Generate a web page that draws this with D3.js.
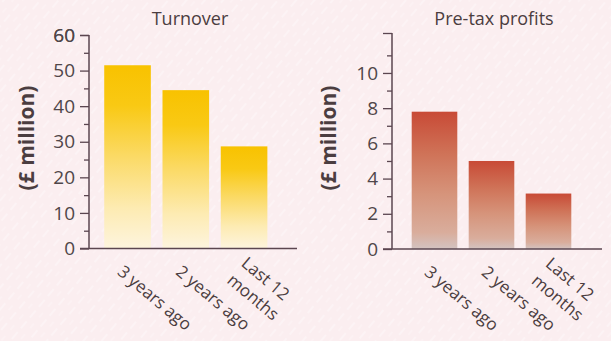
<!DOCTYPE html>
<html>
<head>
<meta charset="utf-8">
<script src="https://cdn.jsdelivr.net/npm/d3@7/dist/d3.min.js"></script>
<style>
  html, body { margin: 0; padding: 0; background: #fbeef0; }
  svg { display: block; }
  text { font-family: "Open Sans", "DejaVu Sans", sans-serif; }
</style>
</head>
<body>
<svg id="chart" width="611" height="341"></svg>
<script>
// Periods shown along the bottom of both panels
const periods = ["3 years ago", "2 years ago", "Last 12 months"];
const periodLines = [["3 years ago"], ["2 years ago"], ["Last 12", "months"]];

// Turnover, £ million
const turnover = [51.5, 44.5, 28.7];
const turnoverMajorTicks = [0, 10, 20, 30, 40, 50, 60];
const turnoverMinorTicks = [5, 15, 25, 35, 45, 55];

// Pre-tax profits, £ million
const profits = [7.8, 5.0, 3.15];
const profitMajorTicks = [0, 2, 4, 6, 8, 10];
const profitMinorTicks = [1, 3, 5, 7, 9, 11];

const panelTitles = ["Turnover", "Pre-tax profits"];
const axisTitle = "(£ million)";

const svg = d3.select("#chart");
const W = 611, H = 341;

// paper background with faint diagonal streaks
const defs = svg.append("defs");
const pat = defs.append("pattern")
  .attr("id", "streaks").attr("patternUnits", "userSpaceOnUse")
  .attr("width", 14).attr("height", 14)
  .attr("patternTransform", "rotate(-50)");
pat.append("line").attr("x1", 0).attr("y1", 3).attr("x2", 9).attr("y2", 3)
  .attr("stroke", "#ffffff").attr("stroke-width", 1.1).attr("opacity", 0.55);
pat.append("line").attr("x1", 6).attr("y1", 10).attr("x2", 12).attr("y2", 10)
  .attr("stroke", "#ffffff").attr("stroke-width", 0.9).attr("opacity", 0.4);
svg.append("rect").attr("width", W).attr("height", H).attr("fill", "#fbeef0");
svg.append("rect").attr("width", W).attr("height", H).attr("fill", "url(#streaks)");

function addGradient(id, stops) {
  const g = defs.append("linearGradient").attr("id", id)
    .attr("x1", 0).attr("y1", 0).attr("x2", 0).attr("y2", 1);
  stops.forEach(([o, c]) => g.append("stop").attr("offset", o).attr("stop-color", c));
}
addGradient("goldFade", [[0, "#f8c200"], [0.22, "#f9c914"], [0.5, "#fbda66"], [0.78, "#fdebb2"], [1, "#fdf4de"]]);
addGradient("rustFade", [[0, "#c84a36"], [0.3, "#cf7257"], [0.6, "#d6947b"], [0.88, "#d9ad9c"], [1, "#d3c3c1"]]);

const textColor = "#4b3d40";
const tickColor = "#504649";
const axisColor = "#5b4650";

const panels = [
  {
    title: panelTitles[0], values: turnover, major: turnoverMajorTicks, minor: turnoverMinorTicks,
    domain: [0, 60], yRange: [248.5, 35], axisX: 89, bandRange: [98.4, 273.2], baseEnd: 297,
    titleX: 190, labelX: 26, fill: "url(#goldFade)"
  },
  {
    title: panelTitles[1], values: profits, major: profitMajorTicks, minor: profitMinorTicks,
    domain: [0, 12.27], yRange: [249, 33], axisX: 392, bandRange: [406, 577], baseEnd: 602,
    titleX: 494, labelX: 328, fill: "url(#rustFade)"
  }
];

panels.forEach(p => {
  const g = svg.append("g");
  const y = d3.scaleLinear().domain(p.domain).range(p.yRange);
  const x = d3.scaleBand().domain(periods).range(p.bandRange).paddingInner(0.2).paddingOuter(0.1);

  // bars
  g.selectAll("rect.bar").data(p.values).join("rect")
    .attr("class", "bar")
    .attr("x", (d, i) => x(periods[i]))
    .attr("width", x.bandwidth())
    .attr("y", d => y(d))
    .attr("height", d => y(0) - y(d))
    .attr("fill", p.fill);

  // minor ticks
  const minorAxis = d3.axisLeft(y).tickValues(p.minor).tickSize(5).tickFormat("");
  const gMinor = g.append("g").attr("transform", `translate(${p.axisX},0)`).call(minorAxis);
  gMinor.select(".domain").remove();

  // major ticks, labelled, plus a closing tick at the top of the axis
  const majorAxis = d3.axisLeft(y).tickValues(p.major.concat([p.domain[1]]))
    .tickSize(9).tickPadding(5)
    .tickFormat(d => p.major.includes(d) ? d3.format("d")(d) : "");
  const gMajor = g.append("g").attr("transform", `translate(${p.axisX},0)`).call(majorAxis)
    .attr("font-size", 19)
    .attr("font-family", null);
  gMajor.select(".domain").remove();
  [gMinor, gMajor].forEach(ax => ax.selectAll("line").attr("stroke", axisColor).attr("stroke-width", 1.3));
  gMajor.selectAll("text")
    .attr("fill", tickColor)
    .style("font-size", "19px");

  // vertical axis line
  g.append("line")
    .attr("x1", p.axisX).attr("x2", p.axisX)
    .attr("y1", y(p.domain[1])).attr("y2", y(0))
    .attr("stroke", axisColor).attr("stroke-width", 1.5);
  // baseline
  g.append("line")
    .attr("x1", p.axisX - 9).attr("x2", p.baseEnd)
    .attr("y1", y(0)).attr("y2", y(0))
    .attr("stroke", axisColor).attr("stroke-width", 1.6);

  // panel title
  g.append("text")
    .attr("x", p.titleX).attr("y", 25)
    .attr("text-anchor", "middle")
    .attr("fill", textColor)
    .style("font-size", "18px")
    .text(p.title);

  // vertical axis title
  g.append("text")
    .attr("transform", `translate(${p.labelX},138) rotate(-90)`)
    .attr("text-anchor", "middle")
    .attr("dominant-baseline", "central")
    .attr("fill", textColor)
    .style("font-size", "21px")
    .style("font-weight", "bold")
    .text(axisTitle);

  // slanted category labels
  const lineStep = 22;
  periods.forEach((cat, i) => {
    const cx = x(cat) + x.bandwidth() / 2;
    const lines = periodLines[i];
    const t = g.append("text")
      .attr("transform", `translate(${cx - 11},${y(0) + 25}) rotate(40)`)
      .attr("fill", textColor)
      .style("font-size", "17px");
    lines.forEach((ln, j) => {
      t.append("tspan")
        .attr("x", 0)
        .attr("y", (j - (lines.length - 1) / 2) * lineStep)
        .text(ln);
    });
  });
});
</script>
</body>
</html>
